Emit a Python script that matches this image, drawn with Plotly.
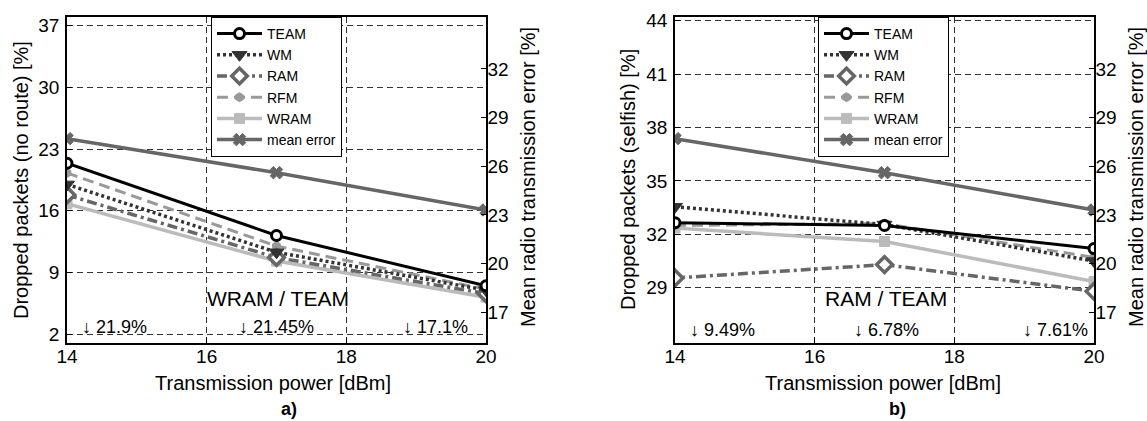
import plotly.graph_objects as go

# ---------------- data ----------------
power = [14, 17, 20]

# a) dropped packets (no route) [%]
team_a = [21.4, 13.2, 7.5]
wm_a = [19.0, 11.3, 7.0]
ram_a = [17.8, 10.7, 6.6]
rfm_a = [20.3, 12.0, 7.1]
wram_a = [16.8, 10.3, 6.2]

# b) dropped packets (selfish) [%]
team_b = [32.65, 32.5, 31.2]
wm_b = [33.55, 32.55, 30.5]
ram_b = [29.55, 30.3, 28.8]
rfm_b = [32.5, 32.6, 30.7]
wram_b = [32.35, 31.6, 29.35]

# mean radio transmission error [%] (right axes)
mean_err = [27.7, 25.6, 23.3]

x_ticks = [14, 16, 18, 20]
ya_ticks = [2, 9, 16, 23, 30, 37]
yb_ticks = [29, 32, 35, 38, 41, 44]
yerr_ticks = [17, 20, 23, 26, 29, 32]

pct_a = ["↓ 21.9%", "↓ 21.45%", "↓ 17.1%"]
pct_b = ["↓ 9.49%", "↓ 6.78%", "↓ 7.61%"]

FONT = "Liberation Sans, Arial, Helvetica, sans-serif"
W, H = 1147, 421

styles = {
    "TEAM": dict(line=dict(color="black", width=3, dash="solid"),
                 marker=dict(symbol="circle", size=10, color="white",
                             line=dict(color="black", width=3))),
    "WM": dict(line=dict(color="#333333", width=3.5, dash="3px,3px"),
               marker=dict(symbol="triangle-down", size=13, color="#333333",
                           line=dict(color="#333333", width=1))),
    "RAM": dict(line=dict(color="#666666", width=3.5, dash="10px,4px,3px,4px"),
                marker=dict(symbol="diamond", size=12, color="white",
                            line=dict(color="#666666", width=3.5))),
    "RFM": dict(line=dict(color="#999999", width=3, dash="11px,6px"),
                marker=dict(symbol="hexagon", size=9, color="#999999",
                            line=dict(color="#999999", width=1))),
    "WRAM": dict(line=dict(color="#bbbbbb", width=3.5, dash="solid"),
                 marker=dict(symbol="square", size=10, color="#bbbbbb",
                             line=dict(color="#bbbbbb", width=1))),
    "mean error": dict(line=dict(color="#666666", width=3.5, dash="solid"),
                       marker=dict(symbol="x", size=11, color="#666666",
                                   line=dict(color="#666666", width=1))),
}
rank = {"TEAM": 1, "WM": 2, "RAM": 3, "RFM": 4, "WRAM": 5, "mean error": 6}

fig = go.Figure()

panels = [
    ("x", "y", "y2", "legend",
     {"WRAM": wram_a, "RFM": rfm_a, "RAM": ram_a, "WM": wm_a, "TEAM": team_a}),
    ("x2", "y3", "y4", "legend2",
     {"WRAM": wram_b, "RFM": rfm_b, "RAM": ram_b, "WM": wm_b, "TEAM": team_b}),
]

for xa, ya, yerr, leg, series in panels:
    for name, vals in series.items():
        st = styles[name]
        fig.add_trace(go.Scatter(
            x=power, y=vals, name=name, mode="lines+markers",
            line=st["line"], marker=st["marker"], xaxis=xa, yaxis=ya,
            legend=leg, legendrank=rank[name]))
    st = styles["mean error"]
    fig.add_trace(go.Scatter(
        x=power, y=mean_err, name="mean error", mode="lines+markers",
        line=st["line"], marker=st["marker"], xaxis=xa, yaxis=yerr,
        legend=leg, legendrank=rank["mean error"]))

x0a, x1a = 67 / W, 486 / W
x0b, x1b = 675 / W, 1094 / W
yd = [1 - 343 / H, 1 - 17 / H]

tickfont = dict(family=FONT, size=19, color="black")
grid = dict(showgrid=True, gridcolor="#333333", gridwidth=1, griddash="6px,4px",
            zeroline=False, showline=True, linecolor="black", linewidth=1.5,
            ticks="inside", ticklen=5, tickcolor="black", automargin=False,
            tickfont=tickfont)
right = dict(showgrid=False, zeroline=False, showline=True, linecolor="black",
             linewidth=1.5, ticks="inside", ticklen=5, tickcolor="black",
             ticklabelstandoff=-4, automargin=False, tickfont=tickfont)

fig.update_layout(
    width=W, height=H,
    margin=dict(l=0, r=0, t=0, b=0, autoexpand=False),
    paper_bgcolor="white", plot_bgcolor="white",
    font=dict(family=FONT, color="black"),
    xaxis=dict(domain=[x0a, x1a], range=[14, 20], tickvals=x_ticks, anchor="y",
               mirror=True, ticklabelstandoff=-5, **grid),
    yaxis=dict(domain=yd, range=[1, 38], tickvals=ya_ticks, anchor="x",
               mirror=True, ticklabelstandoff=2, **grid),
    yaxis2=dict(overlaying="y", side="right", anchor="x", range=[15.1, 35.2],
                tickvals=yerr_ticks, **right),
    xaxis2=dict(domain=[x0b, x1b], range=[14, 20], tickvals=x_ticks, anchor="y3",
                mirror=True, ticklabelstandoff=-5, **grid),
    yaxis3=dict(domain=yd, range=[25.9, 44.2], tickvals=yb_ticks, anchor="x2",
                mirror=True, ticklabelstandoff=2, **grid),
    yaxis4=dict(overlaying="y3", side="right", anchor="x2", range=[15.1, 35.2],
                tickvals=yerr_ticks, **right),
    legend=dict(x=211 / W, y=1 - 17 / H, xanchor="left", yanchor="top",
                bgcolor="white", bordercolor="black", borderwidth=1,
                font=dict(family=FONT, size=14, color="black"),
                tracegroupgap=0, itemwidth=45),
    legend2=dict(x=818 / W, y=1 - 17 / H, xanchor="left", yanchor="top",
                 bgcolor="white", bordercolor="black", borderwidth=1,
                 font=dict(family=FONT, size=14, color="black"),
                 tracegroupgap=0, itemwidth=45),
    showlegend=True,
)

ann = []


def add(text, x, y, size, xref="paper", yref="paper", xanchor="center",
        angle=0):
    ann.append(dict(text=text, x=x, y=y, xref=xref, yref=yref,
                    xanchor=xanchor, yanchor="middle", showarrow=False,
                    textangle=angle,
                    font=dict(family=FONT, size=size, color="black")))


# axis titles and panel labels
add("Transmission power [dBm]", 273 / W, 1 - 383 / H, 20)
add("Transmission power [dBm]", 883 / W, 1 - 383 / H, 20)
add("<b>a)</b>", 289 / W, 1 - 409 / H, 18)
add("<b>b)</b>", 897 / W, 1 - 409 / H, 18)
add("Dropped packets (no route) [%]", 21 / W, 1 - 180 / H, 20, angle=-90)
add("Dropped packets (selfish) [%]", 628 / W, 1 - 180 / H, 20, angle=-90)
add("Mean radio transmission error [%]", 528 / W, 1 - 177 / H, 20, angle=-90)
add("Mean radio transmission error [%]", 1136 / W, 1 - 177 / H, 20, angle=-90)

# in-plot labels
for xr, yr, label, pcts, ys, xm, xe in [
        ("x domain", "y domain", "WRAM / TEAM", pct_a, 327, 0.406, 0.962),
        ("x2 domain", "y3 domain", "RAM / TEAM", pct_b, 330, 0.422, 0.99)]:
    add(label, 0.503, (343 - 298) / 326, 21, xr, yr)
    add(pcts[0], 0.031, (343 - ys) / 326, 18, xr, yr, "left")
    add(pcts[1], xm, (343 - ys) / 326, 18, xr, yr, "left")
    add(pcts[2], xe, (343 - ys) / 326, 18, xr, yr, "right")

fig.update_layout(annotations=ann)

fig.write_html("out.html",
               config={"displayModeBar": False},
               post_script="document.body.style.margin='0px';"
                           "document.body.style.overflow='hidden';")
